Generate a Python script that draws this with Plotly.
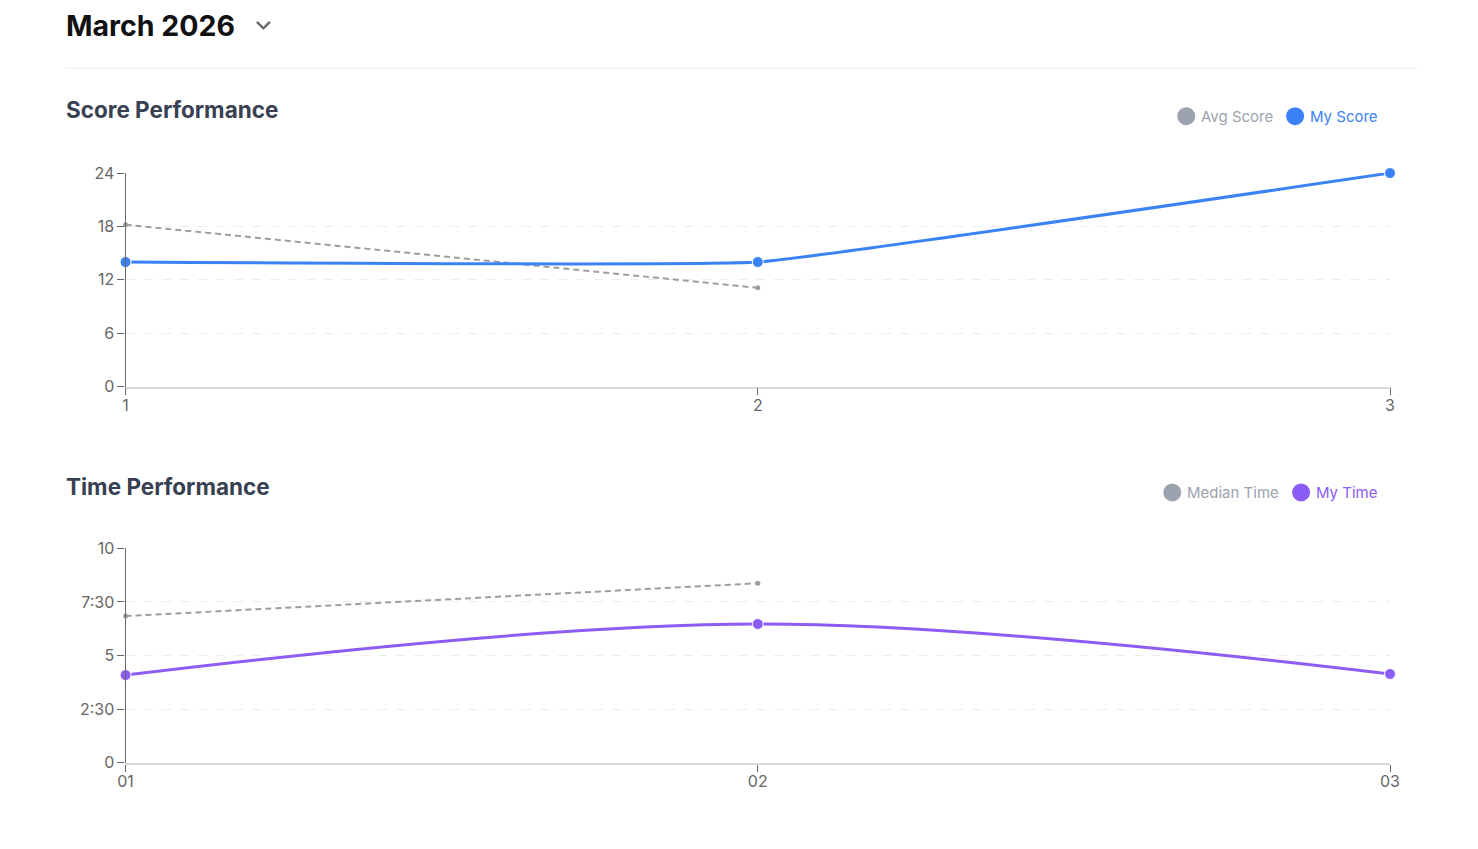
import plotly.graph_objects as go

# page size; the browser keeps an 8px body margin, so the figure is a bit smaller
W, H = 1478, 849
PAD = 8
FW, FH = W - 2 * PAD, H - 2 * PAD

# score chart data
score_days = [1, 2, 3]
my_score = [14, 14, 24]
avg_score_days = [1, 2]
avg_score = [18.2, 11.1]
score_ticks = [0, 6, 12, 18, 24]

# time chart data (minutes)
time_days = [1, 2, 3]
time_labels = ["01", "02", "03"]
my_time = [4.09, 6.47, 4.14]
median_time_days = [1, 2]
median_time = [6.84, 8.37]
time_ticks = [0, 2.5, 5, 7.5, 10]
time_tick_text = ["0", "2:30", "5", "7:30", "10"]

BLUE = "#3b82f6"
PURPLE = "#8b5cf6"
GRAY = "#9ca3af"
DASH_GRAY = "#9e9e9e"
FONT = "Inter, Roboto, sans-serif"

# the screenshot comes out slightly scaled, undo it
SX, BX = 0.9889, 7.4
SY, BY = 0.978, 9.8


# screen pixel -> paper fraction
def fx(s):
    p = (s - BX) / SX
    return (p - PAD) / FW


def fy(s):
    p = (s - BY) / SY
    return 1 - (p - PAD) / FH


fig = go.Figure()

# score
fig.add_trace(go.Scatter(
    x=avg_score_days, y=avg_score, mode="lines+markers", name="Avg Score",
    line=dict(color=DASH_GRAY, width=2, dash="6px,4px"),
    marker=dict(size=5, color=DASH_GRAY),
    cliponaxis=False, showlegend=False, xaxis="x", yaxis="y",
))
fig.add_trace(go.Scatter(
    x=score_days, y=my_score, mode="lines+markers", name="My Score",
    line=dict(color=BLUE, width=3, shape="spline", smoothing=0.25),
    marker=dict(size=11, color=BLUE, line=dict(color="white", width=1)),
    cliponaxis=False, showlegend=False, xaxis="x", yaxis="y",
))

# time
fig.add_trace(go.Scatter(
    x=median_time_days, y=median_time, mode="lines+markers", name="Median Time",
    line=dict(color=DASH_GRAY, width=2, dash="6px,4px"),
    marker=dict(size=5, color=DASH_GRAY),
    cliponaxis=False, showlegend=False, xaxis="x2", yaxis="y2",
))
fig.add_trace(go.Scatter(
    x=time_days, y=my_time, mode="lines+markers", name="My Time",
    line=dict(color=PURPLE, width=3, shape="spline", smoothing=1),
    marker=dict(size=11, color=PURPLE, line=dict(color="white", width=1)),
    cliponaxis=False, showlegend=False, xaxis="x2", yaxis="y2",
))

xcommon = dict(
    domain=[fx(125), fx(1391)], range=[1, 3], showgrid=False, zeroline=False,
    showline=True, linecolor="#d9d9d9", linewidth=1.5,
    ticks="outside", ticklen=7, tickcolor="#666", tickwidth=1.2,
    ticklabelstandoff=-4,
    tickfont=dict(size=16, color="#666", family=FONT), fixedrange=True,
)
ycommon = dict(
    showgrid=True, gridcolor="#ededed", griddash="dash", gridwidth=1,
    zeroline=False, showline=True, linecolor="#666", linewidth=1.2,
    ticks="outside", ticklen=7, tickcolor="#666", tickwidth=1.2,
    tickfont=dict(size=16, color="#666", family=FONT), fixedrange=True,
)

fig.update_layout(
    width=FW, height=FH, margin=dict(l=0, r=0, t=0, b=0),
    paper_bgcolor="white", plot_bgcolor="white",
    font=dict(family=FONT),
    xaxis=dict(xcommon, anchor="y", tickvals=score_days),
    yaxis=dict(ycommon, anchor="x", domain=[fy(387), fy(173)], range=[0, 24],
               tickvals=score_ticks),
    xaxis2=dict(xcommon, anchor="y2", tickvals=time_days, ticktext=time_labels),
    yaxis2=dict(ycommon, anchor="x2", domain=[fy(764), fy(549)], range=[0, 10],
                tickvals=time_ticks, ticktext=time_tick_text),
    showlegend=False,
)

# header
fig.add_annotation(x=fx(63), y=fy(25), xref="paper", yref="paper", xanchor="left",
                   yanchor="middle", showarrow=False, text="<b>March 2026</b>",
                   font=dict(size=28.5, color="#111111", family=FONT))
fig.add_shape(type="path", xref="paper", yref="paper",
              path=f"M {fx(256.5)} {fy(21.5)} L {fx(263)} {fy(28)} L {fx(269.5)} {fy(21.5)}",
              line=dict(color="#6b6b6b", width=2.5))
fig.add_shape(type="line", xref="paper", yref="paper", x0=fx(65), x1=fx(1418),
              y0=fy(68), y1=fy(68), line=dict(color="#ebebeb", width=1))

# section titles
for txt, yy in [("Score Performance", 109), ("Time Performance", 487)]:
    fig.add_annotation(x=fx(63), y=fy(yy), xref="paper", yref="paper", xanchor="left",
                       yanchor="middle", showarrow=False, text=f"<b>{txt}</b>",
                       font=dict(size=22.5, color="#374151", family=FONT))

# legends
legend_items = [
    ("Avg Score", GRAY, 1187, 116),
    ("My Score", BLUE, 1296, 116),
    ("Median Time", GRAY, 1173, 493),
    ("My Time", PURPLE, 1302, 493),
]
for name, col, cx, cy in legend_items:
    r = 9
    fig.add_shape(type="circle", xref="paper", yref="paper",
                  x0=fx(cx - r), x1=fx(cx + r), y0=fy(cy + r), y1=fy(cy - r),
                  fillcolor=col, line=dict(width=0))
    fig.add_annotation(x=fx(cx + r + 4), y=fy(cy), xref="paper", yref="paper",
                       xanchor="left", yanchor="middle", showarrow=False, text=name,
                       font=dict(size=15, color=col, family=FONT))

fig.write_html("out.html", config={"displayModeBar": False})
